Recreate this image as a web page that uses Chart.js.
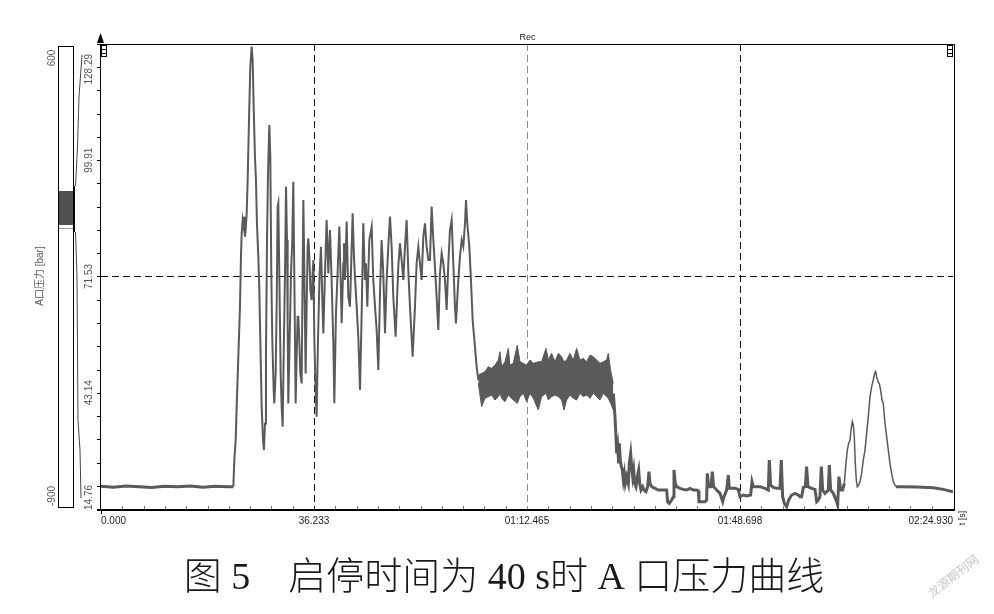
<!DOCTYPE html>
<html lang="zh-CN">
<head>
<meta charset="UTF-8">
<title>启停时间为 40 s时 A 口压力曲线</title>
<script src="https://cdn.jsdelivr.net/npm/chart.js"></script>
<style>
  html, body { margin: 0; padding: 0; background: #fff; }
  #wrap { width: 994px; height: 614px; }
</style>
</head>
<body>
<div id="wrap"><canvas id="pressure-chart" width="994" height="614"></canvas></div>
<script>
// --- axis ticks (time in s, pressure in bar) ---
const X_TICKS = [0, 36.233, 72.465, 108.698, 144.93];
const X_TICK_LABELS = ['0.000', '36.233', '01:12.465', '01:48.698', '02:24.930'];
const Y_TICKS = [14.76, 43.14, 71.53, 99.91, 128.29];
const Y_TICK_LABELS = ['14.76', '43.14', '71.53', '99.91', '128.29'];

// --- signal ---
// idle baseline before start
const BASE_T = [0, 2.1, 4.3, 6.5, 8.6, 10.8, 13.0, 15.2, 17.3, 19.5, 21.6, 22.51];
const BASE_P = [20.3, 20.1, 20.4, 20.2, 20.0, 20.3, 20.2, 20.4, 20.1, 20.3, 20.2, 20.19];

// start-up rise and oscillation
const SWING_T = [22.51, 22.68, 22.91, 23.08, 23.36, 23.64, 23.81, 23.93, 24.10, 24.27, 24.38, 24.49, 24.61, 24.78, 24.95,
  25.06, 25.23, 25.40, 25.63, 25.80, 25.97, 26.19, 26.36, 26.53, 26.76, 26.93, 27.16, 27.33, 27.56, 27.72, 27.90,
  28.06, 28.24, 28.41, 28.63, 28.80, 28.97, 29.14, 29.37, 29.48, 29.71, 29.88, 30.05, 30.16, 30.33, 30.56, 30.73,
  30.90, 31.07, 31.30, 31.47, 31.64, 31.75, 31.86, 32.09, 32.32, 32.54, 32.71, 32.88, 33.11, 33.28, 33.45, 33.56,
  33.73, 33.90, 34.13, 34.30, 34.42, 34.59, 34.81, 34.98, 35.15, 35.27, 35.44, 35.61, 35.83, 36.00, 36.12, 36.29,
  36.51, 36.68, 36.91, 37.19, 37.42, 37.65, 37.82, 38.10, 38.38, 38.67,
  38.95, 39.23, 39.52, 39.69, 39.97, 40.20, 40.54, 40.77, 40.94, 41.22, 41.33, 41.50, 41.79, 42.07, 42.35, 42.58,
  42.81, 43.03, 43.20, 43.49, 43.77, 44.06, 44.34, 44.62, 44.90, 45.07, 45.30, 45.64, 46.04, 46.32, 46.61, 46.89,
  47.17, 47.46, 47.74, 48.02, 48.31, 48.59, 48.87, 49.16, 49.44, 49.72, 50.12, 50.57, 50.86, 51.14, 51.42, 51.71,
  51.99, 52.27, 52.56, 53.01, 53.41, 53.69, 53.98, 54.26, 54.54, 54.83, 55.11, 55.39, 55.68, 55.96, 56.24, 56.53,
  56.81, 57.09, 57.38, 57.66, 57.95, 58.23, 58.51, 58.80, 59.08, 59.36, 59.65, 59.93, 60.21, 60.38, 60.78, 61.06,
  61.35, 61.63, 61.92, 62.09, 62.31, 62.65, 62.88, 63.22, 63.61, 63.90, 64.18];
const SWING_P = [20.19, 26.71, 31.59, 39.73, 51.94, 64.15, 76.36, 82.06, 85.31, 83.69, 86.13, 81.24, 82.87, 86.94, 95.08,
  102.41, 112.99, 122.76, 127.64, 124.39, 112.99, 100.78, 95.08, 84.50, 76.36, 68.22, 51.94, 39.73, 31.59, 29.15, 35.66,
  51.94, 80.43, 96.71, 108.51, 100.78, 72.29, 56.01, 43.80, 40.54, 47.87, 64.15, 88.57, 89.38, 72.29, 47.87, 39.73,
  34.85, 51.94, 72.29, 93.45, 80.43, 60.08, 40.54, 56.01, 72.29, 80.43, 94.67, 72.29, 40.54, 51.94, 61.71, 61.71,
  56.01, 47.87, 45.43, 72.29, 90.20, 72.29, 47.87, 64.15, 78.80, 80.84, 76.36, 68.22, 65.78, 72.29, 75.55, 56.01,
  43.80, 37.29, 56.01, 72.29, 78.80, 65.78, 57.64, 72.29, 85.31, 72.29,
  82.88, 70.68, 55.21, 40.56, 62.54, 70.68, 83.70, 70.68, 60.09, 74.74, 79.63, 70.68, 84.92, 66.60, 64.16, 75.56,
  86.95, 76.37, 71.49, 64.16, 56.83, 43.81, 62.54, 84.51, 70.68, 74.74, 64.16, 80.44, 83.70, 70.68, 64.16, 58.46,
  48.69, 67.41, 80.44, 72.30, 57.65, 70.68, 78.81, 86.14, 78.81, 66.60, 56.83, 73.93, 79.63, 75.56, 70.68, 78.81,
  85.32, 73.12, 64.16, 51.95, 64.16, 74.74, 78.81, 74.74, 70.68, 81.25, 84.51, 78.81, 75.56, 75.56, 88.58, 80.44,
  73.93, 66.60, 58.46, 72.30, 77.18, 74.74, 70.68, 63.35, 74.74, 82.88, 85.32, 74.74, 64.16, 60.09, 70.68, 76.37,
  80.44, 78.81, 84.51, 90.21, 84.51, 78.81, 72.30, 60.91, 54.40, 49.52, 46.25];

// noisy holding plateau: upper and lower envelope
const BAND_T = [64.18, 64.75, 65.31, 65.88, 66.45, 67.02, 67.58, 67.87, 68.15, 68.72, 69.28, 69.57, 70.13, 70.81, 71.27,
  71.84, 72.40, 72.97, 73.54, 74.39, 74.95, 75.69, 76.09, 76.65, 77.22, 77.79, 78.36, 78.75, 79.21, 79.77, 80.34,
  80.91, 81.47, 82.04, 82.61, 83.18, 83.74, 84.31, 84.88, 85.44, 86.01, 86.29, 86.69, 87.14];
const BAND_HI = [47.47, 47.88, 48.29, 49.51, 49.10, 49.91, 51.13, 53.17, 49.51, 50.72, 53.98, 49.91, 50.32, 54.80, 50.72,
  50.32, 49.91, 51.13, 50.32, 50.72, 50.72, 53.98, 51.13, 52.76, 50.72, 52.76, 51.95, 50.72, 51.13, 52.76, 51.13,
  53.98, 51.13, 51.54, 50.72, 52.35, 51.95, 51.13, 50.32, 50.72, 51.13, 52.76, 48.69, 45.44];
const BAND_LO = [45.44, 39.74, 41.77, 42.18, 42.59, 41.37, 42.18, 43.00, 41.77, 40.96, 42.59, 42.18, 41.37, 40.55, 42.18,
  43.00, 40.96, 43.00, 41.77, 38.92, 42.18, 43.00, 41.37, 42.18, 42.59, 42.18, 41.37, 38.92, 41.37, 42.59, 41.77,
  41.37, 43.00, 42.18, 42.59, 41.77, 43.00, 42.18, 41.37, 43.00, 42.18, 41.77, 40.55, 38.92];

// pressure release and low level steps
const STEP_T = [87.15, 87.43, 87.60, 87.72, 87.89, 88.06, 88.17, 88.34, 88.51, 88.68, 88.85, 89.02, 89.19, 89.42, 89.70,
  89.87, 90.10, 90.27, 90.44, 90.61, 90.78, 91.00, 91.23, 91.46, 91.63, 91.85, 92.14, 92.36, 92.70, 92.99, 93.21,
  93.39, 93.67, 94.24, 94.80, 95.37, 95.94, 96.22, 96.39, 96.67, 97.07, 97.35, 97.47, 97.69, 97.92, 98.49, 99.06,
  99.62, 100.19, 100.76, 101.32, 101.61, 101.72, 102.17, 102.74, 103.02, 103.14, 103.36, 103.76, 103.99, 104.21,
  104.73, 105.29, 105.75, 105.97, 106.43, 106.71, 106.88, 107.28, 107.84, 108.41, 108.69, 109.26, 109.83, 110.51,
  110.74, 110.96, 111.53, 112.10, 112.95, 113.51, 113.68, 113.91, 114.36, 114.93, 115.50, 115.72, 115.95, 116.24,
  116.63, 116.97, 117.48, 118.05, 118.62, 118.90, 119.18, 119.47, 119.81, 120.03, 120.26, 120.88, 121.45, 121.74,
  122.02, 122.30, 122.53, 122.76, 123.15, 123.72, 123.89, 124.12, 124.57, 125.14, 125.31, 125.53, 125.82, 126.16, 126.44];
const STEP_P = [43.00, 37.30, 32.42, 28.35, 29.97, 25.90, 30.79, 26.72, 25.09, 24.28, 21.83, 23.46, 21.02, 22.65, 21.02,
  25.90, 28.35, 25.09, 22.65, 24.28, 21.02, 20.21, 22.65, 24.28, 21.02, 19.39, 20.21, 19.39, 18.99, 20.21, 23.87,
  21.02, 20.21, 19.80, 19.39, 19.39, 19.39, 19.39, 16.54, 16.14, 16.95, 17.76, 24.28, 21.02, 20.21, 19.80, 19.55,
  19.39, 19.80, 19.39, 19.39, 19.23, 16.54, 16.54, 16.54, 16.95, 23.46, 20.21, 20.21, 23.87, 20.21,
  19.39, 18.58, 16.54, 17.76, 19.39, 23.06, 19.80, 19.80, 19.80, 19.55, 17.76, 18.17, 17.93, 18.17,
  21.43, 20.21, 20.21, 20.21, 19.80, 19.39, 26.72, 20.61, 20.04, 19.80, 19.80, 26.72, 17.76, 16.14,
  15.32, 16.95, 18.17, 18.58, 18.17, 17.76, 17.76, 20.04, 20.21, 25.09, 20.21, 19.80, 19.55, 16.54,
  16.95, 17.76, 25.09, 19.39, 18.58, 19.39, 25.50, 19.39, 18.58, 16.54, 15.73, 22.65, 19.39, 19.39, 21.02];

// two pressure peaks near the end
const HUMP_T = [126.44, 126.72, 126.95, 127.18, 127.41, 127.58, 127.80, 127.97, 128.14, 128.31, 128.48, 128.65, 128.88,
  129.11, 129.39, 129.67, 129.96, 130.24, 130.52, 130.81, 131.09, 131.37, 131.60, 131.77, 131.94, 132.17, 132.39,
  132.62, 132.85, 133.07, 133.36, 133.64, 133.92, 134.21, 134.49, 134.78, 135.06, 135.23];
const HUMP_P = [21.02, 25.90, 29.16, 30.79, 31.60, 34.04, 36.08, 35.27, 32.42, 25.90, 21.83, 20.21, 20.61,
  21.43, 23.46, 26.72, 29.16, 33.23, 37.30, 42.18, 44.63, 46.25, 47.88, 48.29, 47.07, 45.85, 45.44,
  43.81, 41.37, 40.56, 35.67, 32.42, 29.16, 25.90, 23.46, 21.43, 20.61, 20.21];

// idle tail
const TAIL_T = [135.23, 135.91, 138.75, 141.58, 143.28, 144.93];
const TAIL_P = [20.21, 20.21, 20.12, 19.96, 19.55, 18.99];

const SIGNAL = '#5a5a5a';
const pts = (ts, vs) => ts.map((t, i) => ({ x: t, y: vs[i] }));

function lineSet(label, ts, vs, width) {
    return { label, data: pts(ts, vs), borderColor: SIGNAL, borderWidth: width, pointRadius: 0, tension: 0, fill: false };
}

function vText(ctx, text, x, y, align) {
    ctx.save();
    ctx.translate(x, y);
    ctx.rotate(-Math.PI / 2);
    ctx.textAlign = align;
    ctx.textBaseline = 'middle';
    ctx.fillText(text, 0, 0);
    ctx.restore();
}

// frame, dashed grid, ticks and all the text round the plot
const chromePlugin = {
    id: 'chrome',
    beforeDatasetsDraw(chart) {
        const { ctx, chartArea: a, scales: { x, y } } = chart;
        ctx.save();
        ctx.lineWidth = 1;
        ctx.setLineDash([7, 4]);
        const colors = ['#111', '#8a8a8a', '#111'];
        X_TICKS.slice(1, -1).forEach((t, i) => {
            const px = Math.round(x.getPixelForValue(t)) + 0.5;
            ctx.strokeStyle = colors[i];
            ctx.beginPath(); ctx.moveTo(px, a.top); ctx.lineTo(px, a.bottom); ctx.stroke();
        });
        const py = Math.round(y.getPixelForValue(Y_TICKS[2])) + 0.5;
        ctx.strokeStyle = '#111';
        ctx.beginPath(); ctx.moveTo(a.left, py); ctx.lineTo(a.right, py); ctx.stroke();
        ctx.restore();
    },
    afterDraw(chart) {
        const { ctx, chartArea: a, scales: { x, y } } = chart;
        ctx.save();

        // frame
        ctx.strokeStyle = '#000';
        ctx.lineWidth = 1;
        ctx.beginPath();
        ctx.moveTo(97, a.top + 0.5); ctx.lineTo(a.right + 2, a.top + 0.5);
        ctx.moveTo(a.left - 0.5, a.top); ctx.lineTo(a.left - 0.5, a.bottom + 1);
        ctx.moveTo(a.right + 1.5, a.top); ctx.lineTo(a.right + 1.5, a.bottom);
        ctx.stroke();
        ctx.lineWidth = 2;
        ctx.beginPath(); ctx.moveTo(97, a.bottom + 1); ctx.lineTo(a.right + 2, a.bottom + 1); ctx.stroke();

        // y ticks (5 minor steps per major)
        ctx.lineWidth = 1;
        ctx.beginPath();
        for (let i = 0; i < Y_TICKS.length - 1; i++) {
            for (let k = 0; k < 5; k++) {
                const v = Y_TICKS[i] + (Y_TICKS[i + 1] - Y_TICKS[i]) * k / 5;
                const py = Math.round(y.getPixelForValue(v)) + 0.5;
                ctx.moveTo(a.left - 4, py); ctx.lineTo(a.left - 0.5, py);
            }
        }
        ctx.stroke();

        // x ticks (10 minor steps per major), inside the plot
        ctx.strokeStyle = '#777';
        ctx.beginPath();
        for (let i = 0; i < X_TICKS.length - 1; i++) {
            for (let k = 1; k < 10; k++) {
                const t = X_TICKS[i] + (X_TICKS[i + 1] - X_TICKS[i]) * k / 10;
                const px = Math.round(x.getPixelForValue(t)) + 0.5;
                ctx.moveTo(px, a.bottom - 3); ctx.lineTo(px, a.bottom);
            }
        }
        ctx.stroke();
        ctx.strokeStyle = '#000';
        ctx.beginPath(); ctx.moveTo(a.left + 0.5, a.bottom + 1); ctx.lineTo(a.left + 0.5, a.bottom + 5); ctx.stroke();

        // x tick labels
        ctx.fillStyle = '#222';
        ctx.font = '10px "Liberation Sans", Arial, sans-serif';
        ctx.textBaseline = 'middle';
        X_TICKS.forEach((t, i) => {
            const px = x.getPixelForValue(t);
            ctx.textAlign = i === 0 ? 'left' : (i === X_TICKS.length - 1 ? 'right' : 'center');
            ctx.fillText(X_TICK_LABELS[i], px, 521);
        });

        // y tick labels, rotated
        ctx.fillStyle = '#555';
        Y_TICKS.forEach((v, i) => {
            const py = y.getPixelForValue(v);
            if (i === 0) vText(ctx, Y_TICK_LABELS[i], 89, py + 1, 'left');
            else if (i === Y_TICKS.length - 1) vText(ctx, Y_TICK_LABELS[i], 89, py + 10, 'right');
            else vText(ctx, Y_TICK_LABELS[i], 89, py, 'center');
        });

        // axis names
        ctx.font = '10px "Liberation Sans", "Noto Sans CJK SC", sans-serif';
        vText(ctx, 'A口压力 [bar]', 40, 276, 'center');
        ctx.fillStyle = '#222';
        ctx.font = '9px "Liberation Sans", Arial, sans-serif';
        vText(ctx, 't [s]', 963, 518, 'center');
        ctx.textAlign = 'center';
        ctx.fillText('Rec', (a.left + a.right) / 2 + 0.5, 38);

        // arrow on top of the y axis and the two small handles
        ctx.fillStyle = '#000';
        ctx.beginPath();
        ctx.moveTo(a.left - 0.5, 33); ctx.lineTo(a.left - 4, 43); ctx.lineTo(a.left + 3, 43); ctx.closePath();
        ctx.fill();
        ctx.lineWidth = 1;
        [a.left + 0.5, a.right - 5.5].forEach(hx => {
            ctx.strokeRect(hx, 45.5, 5, 11);
            ctx.beginPath();
            ctx.moveTo(hx, 49.5); ctx.lineTo(hx + 5, 49.5);
            ctx.moveTo(hx, 53.5); ctx.lineTo(hx + 5, 53.5);
            ctx.stroke();
        });

        // range bar on the left
        ctx.strokeStyle = '#000';
        ctx.strokeRect(58.5, 46.5, 15, 461);
        ctx.fillStyle = '#505050';
        ctx.fillRect(59, 191, 14, 34);
        ctx.strokeStyle = '#999';
        ctx.beginPath(); ctx.moveTo(59, 228.5); ctx.lineTo(73, 228.5); ctx.stroke();
        ctx.strokeStyle = '#000';
        ctx.lineWidth = 2;
        ctx.beginPath(); ctx.moveTo(74, 186); ctx.lineTo(74, 232); ctx.stroke();
        ctx.lineWidth = 1;
        ctx.strokeStyle = '#444';
        ctx.beginPath();
        ctx.moveTo(82, 55); ctx.lineTo(79, 97); ctx.lineTo(77.5, 147); ctx.lineTo(75.5, 186);
        ctx.moveTo(75.5, 232); ctx.lineTo(77, 277); ctx.lineTo(78, 420); ctx.lineTo(80, 450); ctx.lineTo(81, 498);
        ctx.stroke();
        ctx.fillStyle = '#555';
        ctx.font = '10px "Liberation Sans", Arial, sans-serif';
        vText(ctx, '600', 52, 58, 'center');
        vText(ctx, '-900', 52, 496, 'center');

        // caption
        ctx.fillStyle = '#1a1a1a';
        ctx.font = '300 38px "Liberation Serif", "Noto Sans CJK SC", serif';
        ctx.textAlign = 'center';
        ctx.textBaseline = 'middle';
        ctx.fillText('图 5\u3000启停时间为 40 s时 A 口压力曲线', 504, 579);

        // watermark
        ctx.save();
        ctx.translate(953, 576);
        ctx.rotate(-0.66);
        ctx.fillStyle = 'rgba(150,150,150,0.55)';
        ctx.font = '12px "Noto Sans CJK SC", sans-serif';
        ctx.fillText('龙源期刊网', 0, 0);
        ctx.restore();

        ctx.restore();
    }
};

new Chart(document.getElementById('pressure-chart'), {
    type: 'line',
    data: {
        datasets: [
            lineSet('基线', BASE_T, BASE_P, 3),
            lineSet('启动振荡', SWING_T, SWING_P, 2),
            { label: '稳压上包络', data: pts(BAND_T, BAND_HI), borderColor: SIGNAL, borderWidth: 1, pointRadius: 0, tension: 0, fill: false },
            { label: '稳压下包络', data: pts(BAND_T, BAND_LO), borderColor: SIGNAL, borderWidth: 1, pointRadius: 0, tension: 0, fill: '-1', backgroundColor: SIGNAL },
            lineSet('卸压', STEP_T, STEP_P, 3),
            lineSet('峰', HUMP_T, HUMP_P, 1.5),
            lineSet('尾段', TAIL_T, TAIL_P, 3)
        ]
    },
    options: {
        responsive: false,
        animation: false,
        layout: { padding: { left: 101, right: 41, top: 44, bottom: 105 } },
        scales: {
            x: { type: 'linear', min: X_TICKS[0], max: X_TICKS[X_TICKS.length - 1], display: false },
            y: { type: 'linear', min: Y_TICKS[0], max: Y_TICKS[Y_TICKS.length - 1], display: false }
        },
        plugins: { legend: { display: false }, tooltip: { enabled: false } }
    },
    plugins: [chromePlugin]
});
</script>
</body>
</html>
